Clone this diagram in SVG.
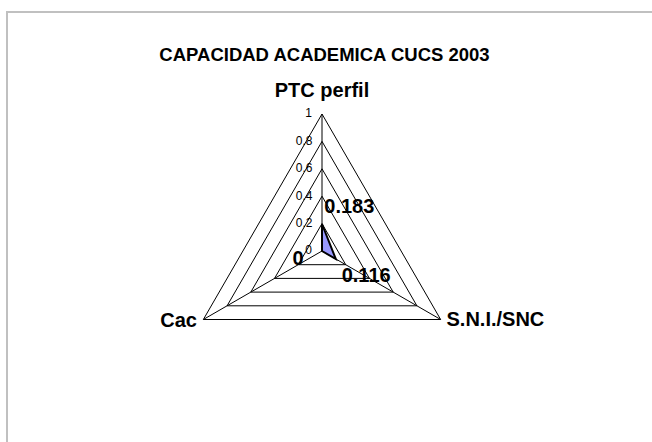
<svg xmlns="http://www.w3.org/2000/svg" width="652" height="442" viewBox="0 0 652 442">
<style>
.ring{fill:none;stroke:#000;stroke-width:1}
.axis{stroke:#000;stroke-width:1}
.tick{font-family:"Liberation Sans",Arial,sans-serif;font-size:12px;fill:#000;text-anchor:end}
.ttl{font-family:"Liberation Sans",Arial,sans-serif;font-size:18.5px;font-weight:bold;fill:#000}
.cat{font-family:"Liberation Sans",Arial,sans-serif;font-size:20px;font-weight:bold;fill:#000}
.val{font-family:"Liberation Sans",Arial,sans-serif;font-size:20px;font-weight:bold;fill:#000}
</style>
<rect x="0" y="0" width="652" height="442" fill="#fff"/>
<rect x="7" y="12" width="700" height="500" fill="#fff" stroke="#C0C0C0" stroke-width="2"/>
<text id="title" class="ttl" x="324.5" y="60.7" text-anchor="middle">CAPACIDAD ACADEMICA CUCS 2003</text>
<g id="grid">
<polygon class="ring" points="322,223.6 345.73,264.7 298.27,264.7"/>
<polygon class="ring" points="322,196.2 369.46,278.4 274.54,278.4"/>
<polygon class="ring" points="322,168.8 393.19,292.1 250.81,292.1"/>
<polygon class="ring" points="322,141.4 416.92,305.8 227.08,305.8"/>
<polygon class="ring" points="322,114 440.65,319.5 203.35,319.5"/>
</g>
<g id="axes">
<line class="axis" x1="322" y1="251" x2="322" y2="114"/>
<line class="axis" x1="322" y1="251" x2="440.65" y2="319.5"/>
<line class="axis" x1="322" y1="251" x2="203.35" y2="319.5"/>
</g>
<g id="ticks">
<text class="tick" x="312" y="117">1</text>
<text class="tick" x="312.5" y="144.5">0.8</text>
<text class="tick" x="312.5" y="172">0.6</text>
<text class="tick" x="312.5" y="199.5">0.4</text>
<text class="tick" x="312.5" y="227">0.2</text>
<text class="tick" x="312" y="253.5">0</text>
</g>
<g id="series">
<polygon points="322,251 322,224 335.8,259" fill="#9999FF" stroke="#000" stroke-width="2"/>
</g>
<g id="categories">
<text id="cat-ptc" class="cat" x="322" y="96.5" text-anchor="middle">PTC perfil</text>
<text id="cat-cac" class="cat" x="197" y="326.5" text-anchor="end">Cac</text>
<text id="cat-sni" class="cat" x="446.5" y="326" text-anchor="start">S.N.I./SNC</text>
</g>
<g id="values">
<text class="val" x="324.3" y="213.3">0.183</text>
<text class="val" x="341.7" y="282.3">0.116</text>
<text class="val" x="303.5" y="265" text-anchor="end">0</text>
</g>
</svg>
